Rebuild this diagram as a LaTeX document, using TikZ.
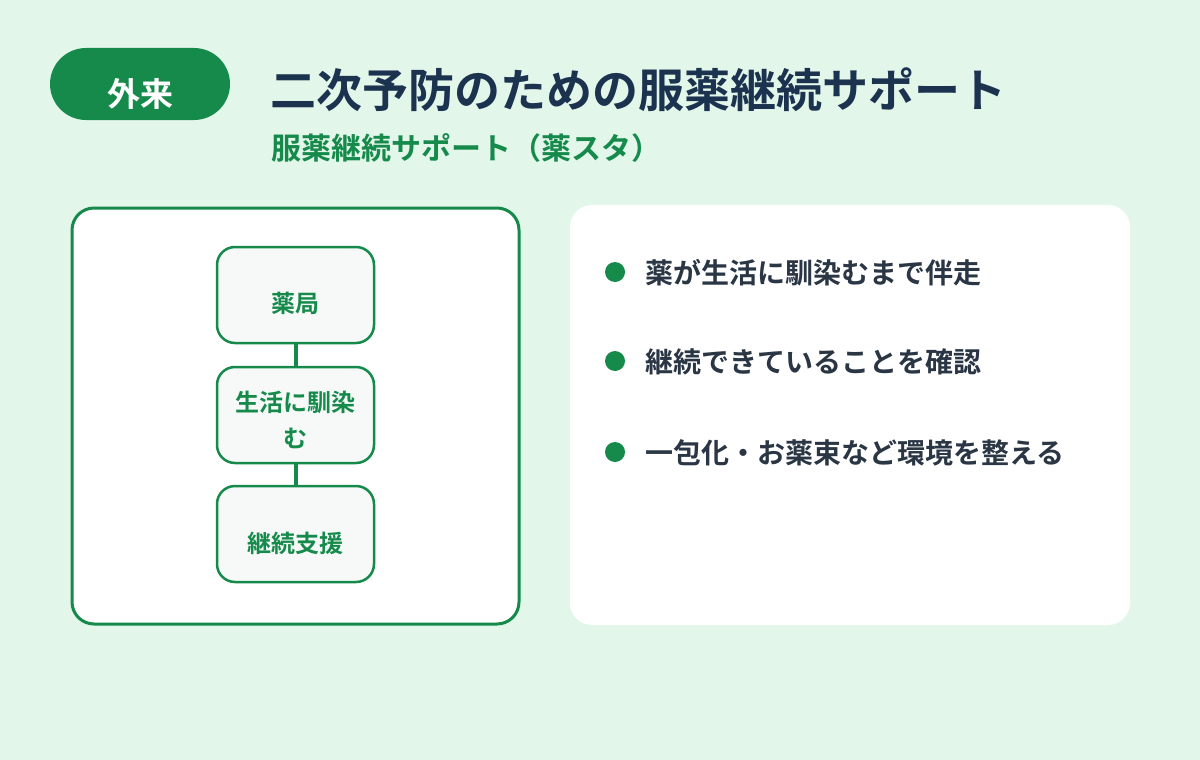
\documentclass[tikz,border=0pt]{standalone}
\usepackage{fontspec}
\setmainfont{Noto Sans CJK JP}[BoldFont={Noto Sans CJK JP Bold}]
\newfontfamily\jpb{Noto Sans CJK JP Bold}
\definecolor{bgc}{HTML}{E3F6EA}
\definecolor{grn}{HTML}{158A4B}
\definecolor{navy}{HTML}{1C3350}
\definecolor{slate}{HTML}{2B3645}
\definecolor{boxfill}{HTML}{F6F9F8}
\tikzset{
  panel/.style={rounded corners=22pt, fill=white},
  stepbox/.style={draw=grn, line width=2.5pt, fill=boxfill, rounded corners=18pt, minimum width=157pt, minimum height=96pt, inner sep=0pt},
  boxtext/.style={text=grn, font=\jpb\fontsize{24}{36}\selectfont, align=center, inner sep=0pt},
  bullettext/.style={text=slate, font=\jpb\fontsize{28}{34}\selectfont, anchor=west, inner sep=0pt},
  dot/.style={circle, fill=grn, minimum size=20pt, inner sep=0pt},
  link/.style={draw=grn, line width=4pt}
}
\begin{document}
\begin{tikzpicture}[x=1pt,y=-1pt]
\useasboundingbox (0,0) rectangle (1200,760);
\fill[bgc] (0,0) rectangle (1200,760);
% pill
\node[fill=grn, rounded corners=36pt, minimum width=180pt, minimum height=72pt, inner sep=0pt] (pill) at (140,84) {};
\node[text=white, font=\jpb\fontsize{33}{36}\selectfont, inner sep=0pt] (pilltext) at (140,94) {外来};
% titles
\node[anchor=west, text=navy, font=\jpb\fontsize{46}{50}\selectfont, inner sep=0pt] (title) at (270,90) {二次予防のための服薬継続サポート};
\node[anchor=west, text=grn, font=\jpb\fontsize{30}{34}\selectfont, inner sep=0pt] (subtitle) at (271,148) {服薬継続サポート（薬スタ）};
% left panel
\draw[panel, draw=grn, line width=3pt] (72,208) rectangle (519,624);
% steps
\node[stepbox] (b1) at (295.5,295) {};
\node[stepbox] (b2) at (295.5,415) {};
\node[stepbox] (b3) at (295.5,534) {};
\draw[link] (b1.south) -- (b2.north);
\draw[link] (b2.south) -- (b3.north);
\node[boxtext] (t1) at (295.5,303) {薬局};
\node[boxtext] (t2) at (295.5,420) {生活に馴染\\む};
\node[boxtext] (t3) at (295.5,543) {継続支援};
% right panel
\fill[panel] (570,205) rectangle (1130,625);
\node[dot] (d1) at (615,272) {};
\node[dot] (d2) at (615,361) {};
\node[dot] (d3) at (615,452) {};
\node[bullettext] (l1) at (645,273) {薬が生活に馴染むまで伴走};
\node[bullettext] (l2) at (645,362) {継続できていることを確認};
\node[bullettext] (l3) at (645,453) {一包化・お薬束など環境を整える};
\end{tikzpicture}
\end{document}
